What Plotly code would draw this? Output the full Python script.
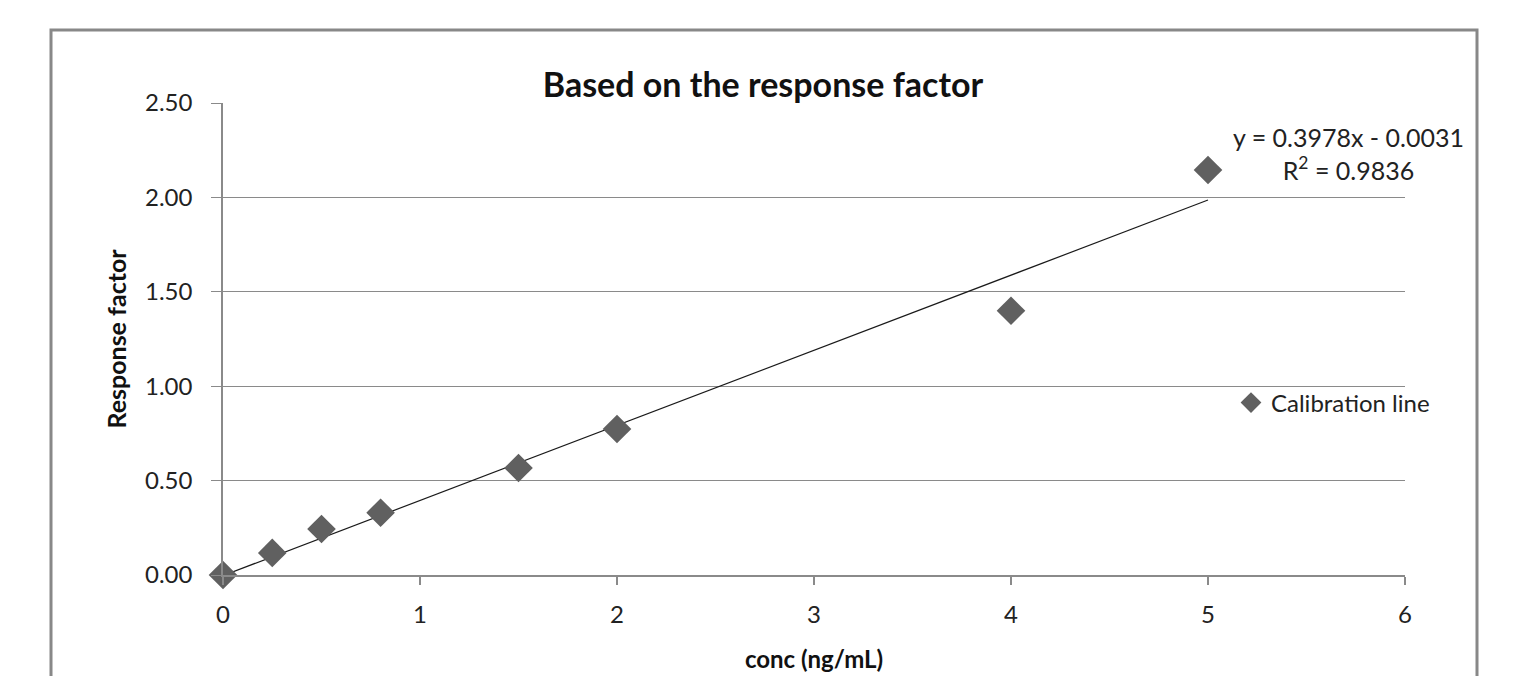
import plotly.graph_objects as go

conc = [0, 0.25, 0.5, 0.8, 1.5, 2, 4, 5]
response = [0.0, 0.117, 0.244, 0.33, 0.567, 0.773, 1.40, 2.145]
slope = 0.3978
intercept = -0.0031
fit_x = [0, 5]
fit_y = [slope * v + intercept for v in fit_x]
y_ticks = [0, 0.5, 1.0, 1.5, 2.0, 2.5]
x_ticks = [0, 1, 2, 3, 4, 5, 6]

FONT = "Lato"
grey = "#8a8a8a"
OFF = 8  # page body offset

# plot area in rendered pixels: x 223..1405, y 103..575
def px(p):
    return (p - 223) / 1182

def py(p):
    return (575 - p) / 472

fig = go.Figure()
fig.add_trace(go.Scatter(x=fit_x, y=fit_y, mode="lines",
                         line=dict(color="#1a1a1a", width=1.2),
                         showlegend=False, hoverinfo="skip", cliponaxis=False))
fig.add_trace(go.Scatter(x=conc, y=response, mode="markers", name="Calibration line",
                         marker=dict(symbol="diamond", size=22, color="#606060"),
                         cliponaxis=False))

fig.update_layout(
    width=1526, height=676,
    margin=dict(l=223 - OFF, r=1526 - 1182 - 223 + OFF, t=103 - OFF, b=676 - 472 - 103 + OFF),
    paper_bgcolor="white", plot_bgcolor="white",
    font=dict(family=FONT, color="#222"),
    title=dict(text="<b>Based on the response factor</b>", x=px(763), xanchor="center",
               xref="paper", y=1 - (85 - OFF) / 676, yanchor="middle",
               font=dict(size=34, family=FONT, color="#111")),
    showlegend=True,
    legend=dict(x=px(1231), y=py(403), xanchor="left", yanchor="middle",
                font=dict(size=24, family=FONT, color="#222"), itemwidth=30,
                bgcolor="rgba(0,0,0,0)", itemsizing="trace"),
    xaxis=dict(range=[0, 6], tickvals=x_ticks, ticktext=[str(v) for v in x_ticks],
               automargin=False,
               showgrid=False, zeroline=False, showline=True, linecolor=grey, linewidth=1.5,
               ticks="outside", ticklen=8, tickcolor=grey, tickwidth=1.5,
               tickfont=dict(size=24, family=FONT, color="#222"), ticklabelstandoff=9,
               title=dict(text="<b>conc (ng/mL)</b>", font=dict(size=24, family=FONT, color="#111"),
                          standoff=25)),
    yaxis=dict(range=[0, 2.5], tickvals=y_ticks, ticktext=[f"{v:.2f}" for v in y_ticks],
               automargin=False,
               showgrid=True, gridcolor=grey, gridwidth=1.2, zeroline=False,
               showline=True, linecolor=grey, linewidth=1.5,
               ticks="outside", ticklen=10, tickcolor=grey, tickwidth=1.2,
               tickfont=dict(size=24, family=FONT, color="#222"), ticklabelstandoff=14,
               title=dict(text="<b>Response factor</b>", font=dict(size=25, family=FONT, color="#111"),
                          standoff=11)),
)

fig.add_shape(type="rect", xref="paper", yref="paper",
              x0=px(51), x1=px(1477), y0=-0.4, y1=py(30),
              line=dict(color="#888", width=3), layer="below")

fig.add_annotation(xref="paper", yref="paper",
                   x=px(1348), y=py(153),
                   text="y = 0.3978x - 0.0031<br>R<sup>2</sup> = 0.9836",
                   showarrow=False, align="center", xanchor="center", yanchor="middle",
                   font=dict(size=25, family=FONT, color="#222"))

fig.write_html("out.html")
